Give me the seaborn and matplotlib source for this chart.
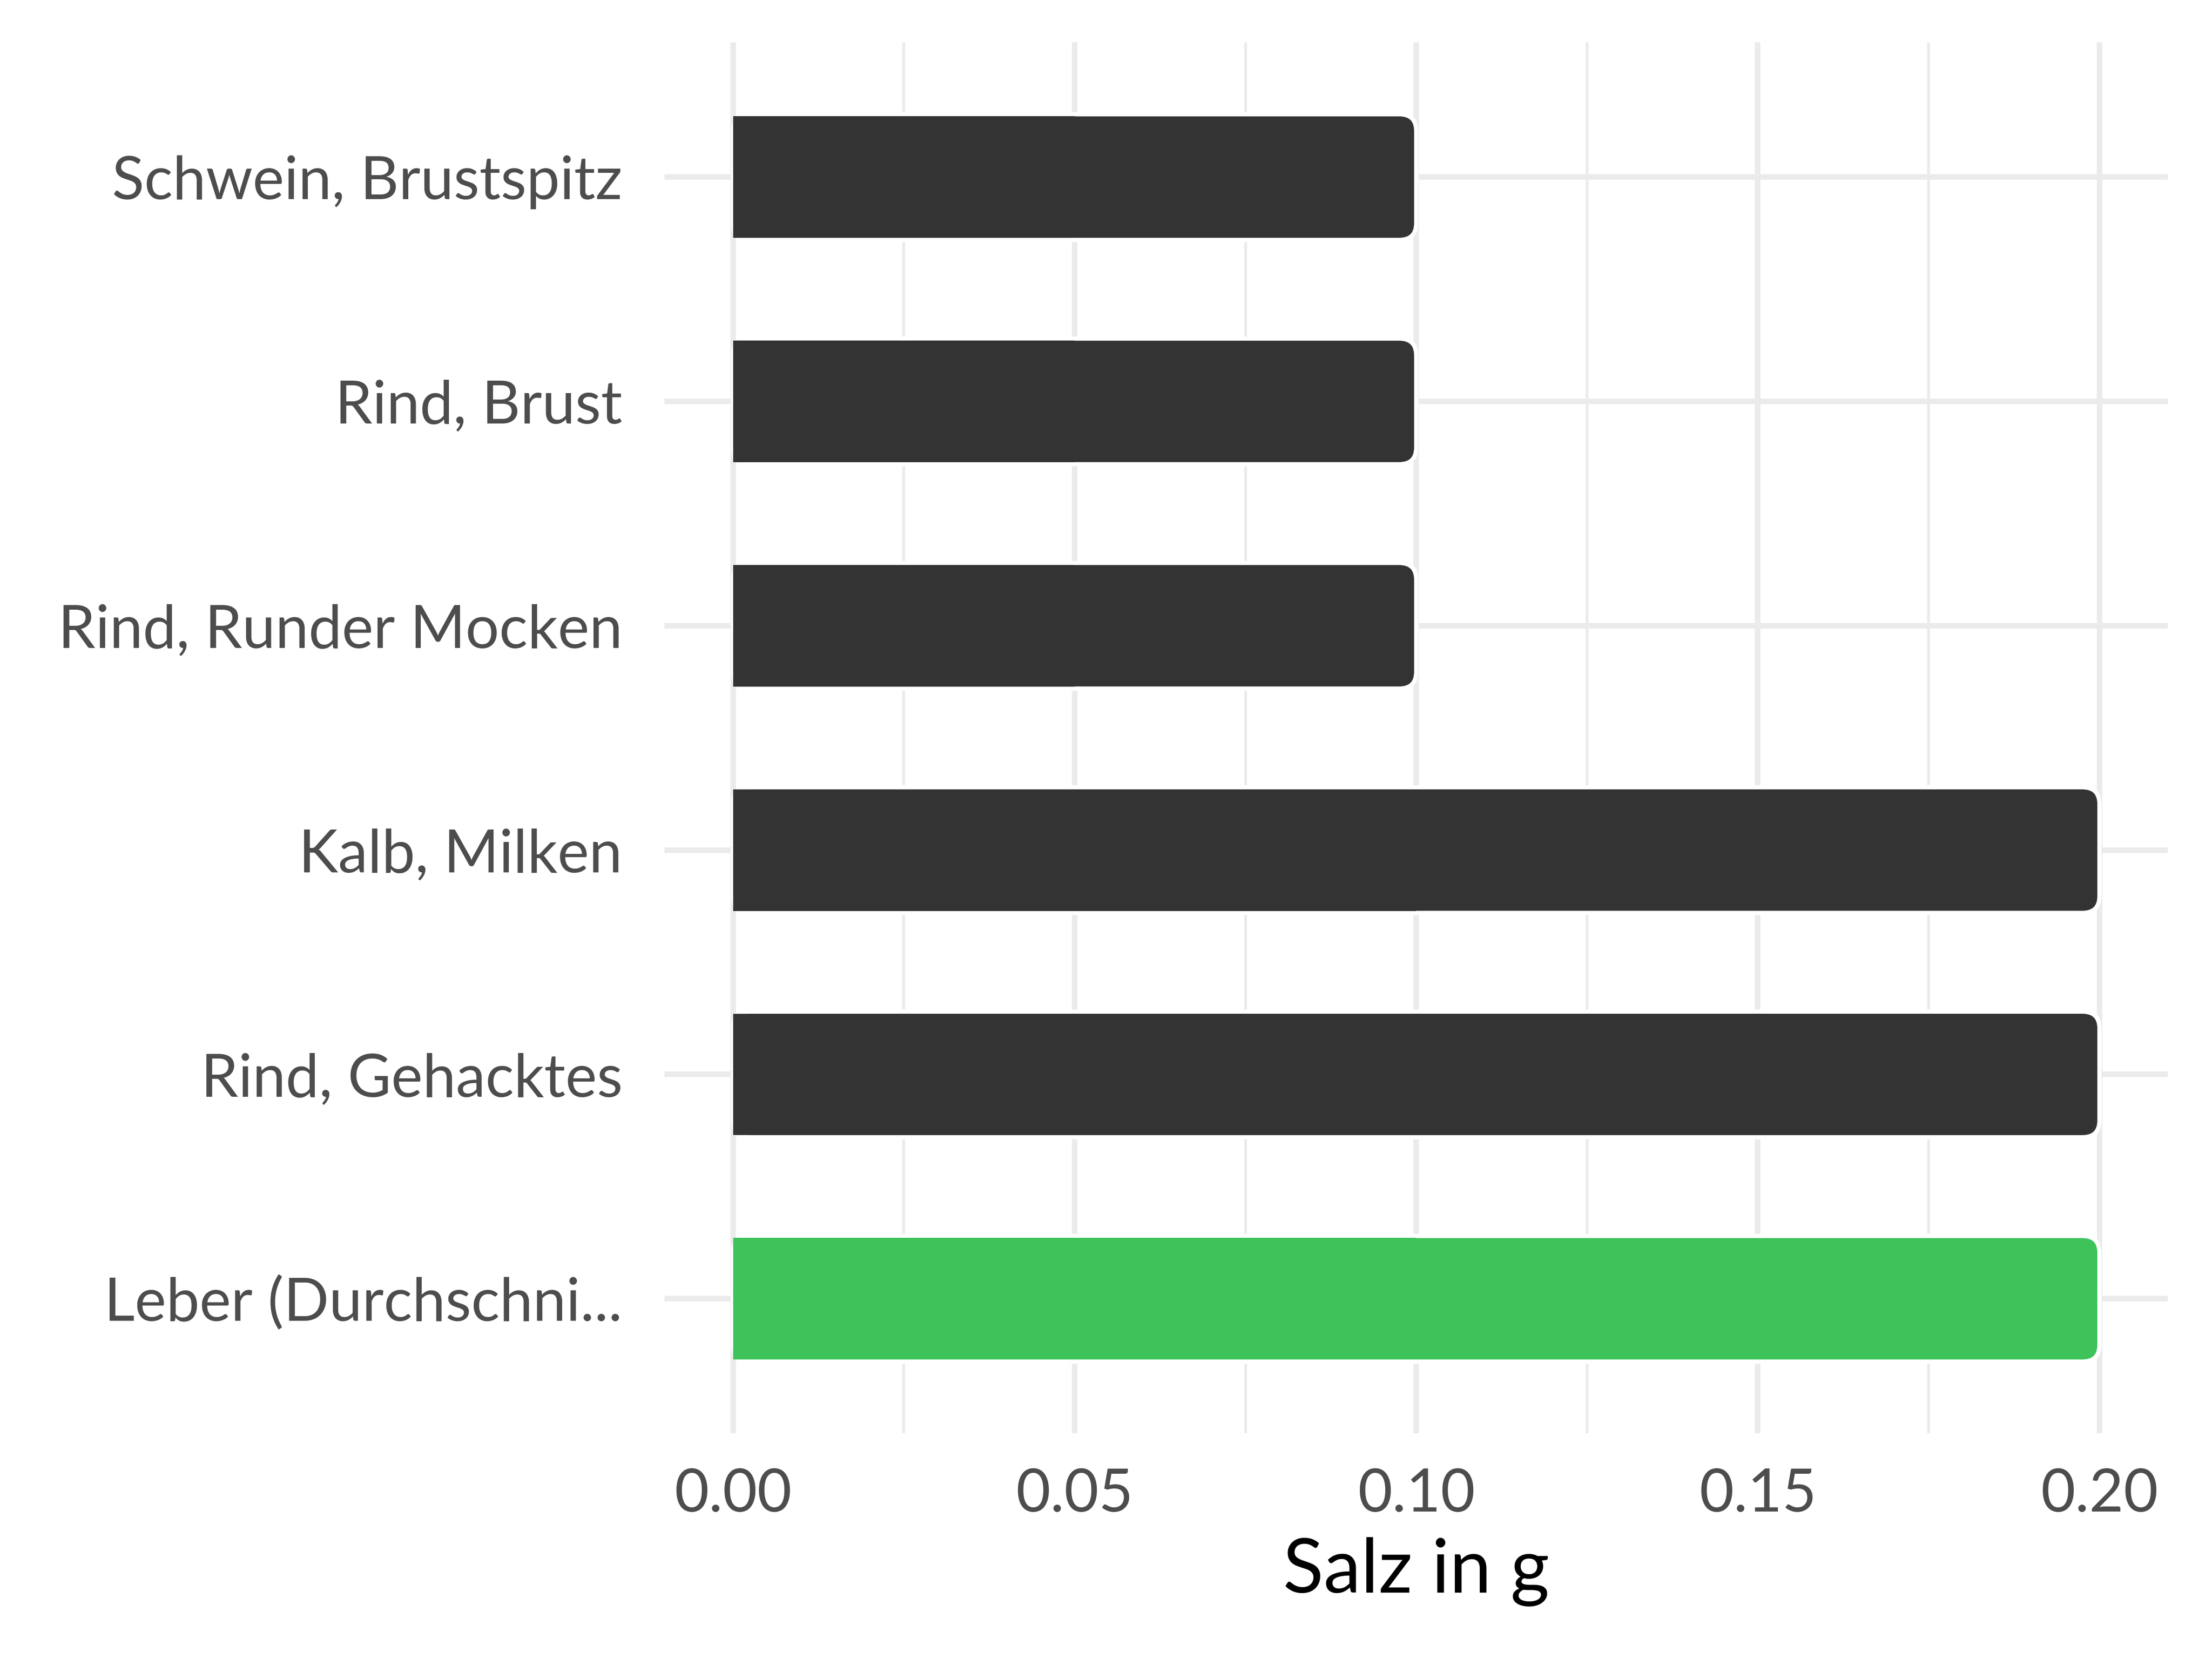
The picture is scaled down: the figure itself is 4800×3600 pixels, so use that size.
import matplotlib
matplotlib.use("Agg")
import matplotlib.pyplot as plt
from matplotlib.patches import FancyBboxPatch, Rectangle
from matplotlib.ticker import MultipleLocator
import seaborn as sns
import pandas as pd

# data
categories = [
    "Schwein, Brustspitz",
    "Rind, Brust",
    "Rind, Runder Mocken",
    "Kalb, Milken",
    "Rind, Gehacktes",
    "Leber (Durchschni...",
]
salt_g = [0.1, 0.1, 0.1, 0.2, 0.2, 0.2]
bar_colors = ["#333333", "#333333", "#333333", "#333333", "#333333", "#3DC35A"]
x_ticks = [0.00, 0.05, 0.10, 0.15, 0.20]
x_label = "Salz in g"

df = pd.DataFrame({"food": categories, "salt": salt_g})

sns.set_theme(style="white")
plt.rcParams["font.family"] = ["Lato", "DejaVu Sans"]

fig = plt.figure(figsize=(16, 12), dpi=300)
ax = fig.add_axes([0.3005, 0.136, 0.980 - 0.3005, 0.9744 - 0.136])

sns.barplot(
    data=df, x="salt", y="food", hue="food",
    palette=dict(zip(categories, bar_colors)), saturation=1,
    orient="h", width=0.56, legend=False, ax=ax, zorder=3,
)

# swap the plain bars for ones with rounded right ends
for patch in list(ax.patches):
    x0, y0 = patch.get_x(), patch.get_y()
    w, h = patch.get_width(), patch.get_height()
    fc = patch.get_facecolor()
    patch.remove()
    ax.add_patch(FancyBboxPatch(
        (x0, y0), w, h, boxstyle="round,pad=0,rounding_size=0.0025",
        mutation_aspect=30, facecolor=fc, edgecolor="white",
        linewidth=2.2, zorder=3,
    ))
    # square off the left end
    ax.add_patch(Rectangle((x0, y0 + 0.009), w / 2, h - 0.018, facecolor=fc,
                           edgecolor="none", zorder=3.5))

ax.set_xlim(-0.01, 0.21)
ax.set_ylim(5.6, -0.6)
ax.set_xticks(x_ticks)
ax.set_xticklabels([f"{t:.2f}" for t in x_ticks])
ax.xaxis.set_minor_locator(MultipleLocator(0.025))

ax.grid(True, which="major", axis="both", color="#EBEBEB", linewidth=2.9, zorder=0)
ax.grid(True, which="minor", axis="x", color="#EBEBEB", linewidth=1.45, zorder=0)
ax.set_axisbelow(True)
for s in ax.spines.values():
    s.set_visible(False)

ax.tick_params(axis="both", which="both", length=0, labelsize=31, labelcolor="#4D4D4D")
ax.tick_params(axis="y", pad=22)
ax.tick_params(axis="x", pad=18)
ax.set_ylabel("")
ax.set_xlabel(x_label, fontsize=39, color="black", labelpad=8)

fig.savefig("out.png", dpi=300)
